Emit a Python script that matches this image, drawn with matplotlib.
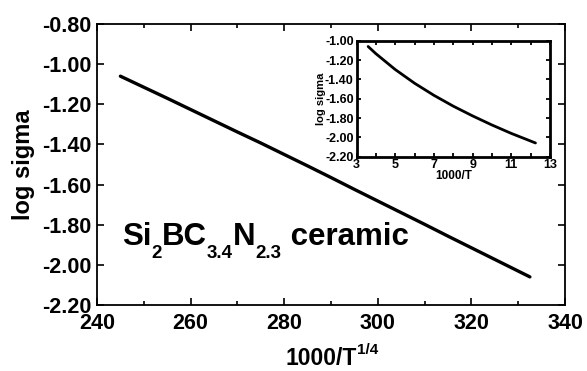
import matplotlib
matplotlib.use("Agg")
import matplotlib.pyplot as plt
from matplotlib.ticker import MultipleLocator, FormatStrFormatter

plt.rcParams['font.family'] = ['Liberation Sans', 'DejaVu Sans']
plt.rcParams['font.weight'] = 'bold'

# main curve: log sigma vs 1000/T^(1/4)
main_x = [245.0, 250.0, 255.0, 260.0, 265.0, 270.0, 275.0, 280.0, 285.0, 290.0,
          295.0, 300.0, 305.0, 310.0, 315.0, 320.0, 325.0, 330.0, 332.5]
main_y = [-1.060, -1.115, -1.170, -1.226, -1.282, -1.338, -1.393, -1.450, -1.507, -1.565,
          -1.624, -1.682, -1.740, -1.798, -1.857, -1.915, -1.973, -2.031, -2.060]

# inset curve: log sigma vs 1000/T
inset_x = [3.6, 4.0, 5.0, 6.0, 7.0, 8.0, 9.0, 10.0, 11.0, 12.25]
inset_y = [-1.060, -1.134, -1.298, -1.440, -1.565, -1.677, -1.778, -1.872, -1.959, -2.058]

main_xticks = [240, 260, 280, 300, 320, 340]
main_yticks = [-2.20, -2.00, -1.80, -1.60, -1.40, -1.20, -1.00, -0.80]
inset_xticks = [3, 5, 7, 9, 11, 13]
inset_yticks = [-2.20, -2.00, -1.80, -1.60, -1.40, -1.20, -1.00]

# formula label pieces: (text, is_subscript)
formula = [('Si', False), ('2', True), ('BC', False), ('3.4', True),
           ('N', False), ('2.3', True), (' ceramic', False)]

W, H = 587, 371
fig = plt.figure(figsize=(W / 100, H / 100), dpi=100)

ax = fig.add_axes([97 / W, 1 - 305 / H, (565 - 97) / W, (305 - 24) / H])
ax.plot(main_x, main_y, color='black', lw=2.4, solid_capstyle='round')
ax.set_xlim(240, 340)
ax.set_ylim(-2.2, -0.8)
ax.set_xticks(main_xticks)
ax.set_yticks(main_yticks)
ax.xaxis.set_minor_locator(MultipleLocator(10))
ax.yaxis.set_major_formatter(FormatStrFormatter('%.2f'))
ax.tick_params(which='both', direction='in', top=True, right=True, width=1.2)
ax.tick_params(which='major', length=5, labelsize=15.5)
ax.tick_params(axis='x', which='major', pad=6)
ax.tick_params(axis='y', which='major', pad=4)
ax.tick_params(which='minor', length=3)
for s in ax.spines.values():
    s.set_linewidth(1.3)
for lab in ax.get_xticklabels() + ax.get_yticklabels():
    lab.set_fontweight('bold')
ax.set_ylabel('log sigma', fontsize=17, fontweight='bold', labelpad=5)

# x label with superscript, placed manually
fig.canvas.draw()
renderer = fig.canvas.get_renderer()
t1 = fig.text(0, 0, '1000/T', fontsize=16.5, fontweight='bold')
w1 = t1.get_window_extent(renderer).width
t2 = fig.text(0, 0, '1/4', fontsize=11, fontweight='bold')
w2 = t2.get_window_extent(renderer).width
x0 = 332 - (w1 + w2) / 2
base = 365
t1.set_position((x0 / W, 1 - base / H))
t1.set_va('baseline')
t2.set_position(((x0 + w1) / W, 1 - (base - 11) / H))
t2.set_va('baseline')

# formula text composed piecewise
x = 122.0
base_f = 245.0
for txt, sub in formula:
    if sub:
        t = fig.text(x / W, 1 - (base_f + 13) / H, txt, fontsize=13.5,
                     fontweight='bold', va='baseline', ha='left')
    else:
        t = fig.text(x / W, 1 - base_f / H, txt, fontsize=22.5,
                     fontweight='bold', va='baseline', ha='left')
    x += t.get_window_extent(renderer).width

# inset
ins = fig.add_axes([356.5 / W, 1 - 156.7 / H, (550 - 356.5) / W, (156.7 - 40.7) / H])
ins.plot(inset_x, inset_y, color='black', lw=2.0, solid_capstyle='round')
ins.set_xlim(3, 13)
ins.set_ylim(-2.2, -1.0)
ins.set_xticks(inset_xticks)
ins.set_yticks(inset_yticks)
ins.xaxis.set_minor_locator(MultipleLocator(1))
ins.yaxis.set_major_formatter(FormatStrFormatter('%.2f'))
ins.tick_params(which='both', direction='in', top=True, right=True, width=1.3)
ins.tick_params(which='major', length=3, labelsize=9, pad=2)
ins.tick_params(which='minor', length=3)
for s in ins.spines.values():
    s.set_linewidth(2.0)
for lab in ins.get_xticklabels() + ins.get_yticklabels():
    lab.set_fontweight('bold')
ins.set_xlabel('1000/T', fontsize=8.5, fontweight='bold', labelpad=-1)
ins.set_ylabel('log sigma', fontsize=8, fontweight='bold', labelpad=-1)

fig.savefig('out.png', dpi=100)
